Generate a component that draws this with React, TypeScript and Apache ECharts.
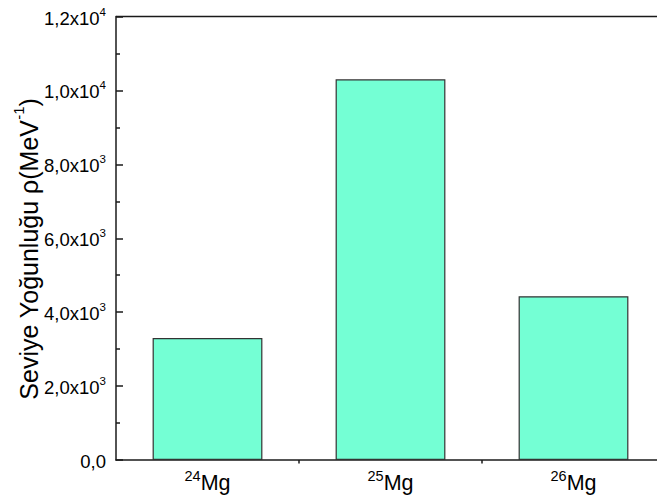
import React, { useEffect, useRef } from "react";
import * as echarts from "echarts";

// Isotopes (mass numbers) and their level densities
const massNumbers = ["24", "25", "26"];
const element = "Mg";
const levelDensity = [3300, 10300, 4430];

const yMin = 0;
const yMax = 12000;
const yInterval = 2000;

const FONT = "'Liberation Sans', Arial, sans-serif";
const INK = "#1a1a1a";

function formatSci(v: number): string {
  if (v === 0) return "{b|0,0}";
  const e = Math.floor(Math.log10(Math.abs(v)) + 1e-9);
  const m = (v / Math.pow(10, e)).toFixed(1).replace(".", ",");
  return `{b|${m}x10}{sup|${e}}`;
}

export default function App() {
  const ref = useRef<HTMLDivElement>(null);

  useEffect(() => {
    if (!ref.current) return;
    const chart = echarts.init(ref.current, undefined, { renderer: "svg" });

    // the plot frame runs past the right edge of the page
    const gridLeft = 116;
    const gridTop = 16.5;
    const gridWidth = 549;
    const gridHeight = 443.5;

    chart.setOption({
      animation: false,
      backgroundColor: "#ffffff",
      textStyle: { fontFamily: FONT, color: "#000" },
      grid: {
        left: gridLeft,
        top: gridTop,
        width: gridWidth,
        height: gridHeight,
        show: false,
        containLabel: false,
        outerBoundsMode: "none",
      },
      xAxis: {
        type: "category",
        data: massNumbers,
        boundaryGap: true,
        axisLine: { lineStyle: { color: INK, width: 1.5 } },
        axisTick: { alignWithLabel: true, length: 7, lineStyle: { color: INK, width: 1.5 } },
        axisLabel: {
          margin: 8,
          formatter: (v: string) => `{sup|${v}}{b|${element}}`,
          rich: {
            sup: { fontSize: 14.5, fontFamily: FONT, color: "#000", verticalAlign: "top", lineHeight: 24 },
            b: { fontSize: 21.5, fontFamily: FONT, color: "#000", verticalAlign: "bottom", lineHeight: 26 },
          },
        },
        splitLine: { show: false },
      },
      yAxis: {
        type: "value",
        min: yMin,
        max: yMax,
        interval: yInterval,
        axisLine: { show: true, lineStyle: { color: INK, width: 1.5 } },
        axisTick: { show: true, inside: true, length: 7, lineStyle: { color: INK, width: 1.5 } },
        minorTick: { show: true, splitNumber: 2, length: 4, lineStyle: { color: INK, width: 1.5 } },
        splitLine: { show: false },
        axisLabel: {
          margin: 10,
          formatter: (v: number) => formatSci(v),
          rich: {
            b: { fontSize: 18.5, fontFamily: FONT, color: "#000", lineHeight: 22, verticalAlign: "bottom" },
            sup: { fontSize: 11.5, fontFamily: FONT, color: "#000", lineHeight: 22, verticalAlign: "top" },
          },
        },
      },
      graphic: [
        {
          // top edge of the frame, running off the right side
          type: "line",
          shape: { x1: gridLeft, y1: gridTop, x2: 700, y2: gridTop },
          style: { stroke: INK, lineWidth: 1.5 },
          z: 10,
        },
        {
          // short ticks on the category boundaries below the axis
          type: "group",
          children: [1, 2].map((i) => ({
            type: "line",
            shape: {
              x1: gridLeft + (gridWidth / massNumbers.length) * i,
              y1: gridTop + gridHeight,
              x2: gridLeft + (gridWidth / massNumbers.length) * i,
              y2: gridTop + gridHeight + 3.5,
            },
            style: { stroke: INK, lineWidth: 1.5 },
          })),
        },
        {
          type: "text",
          x: 26,
          y: 249,
          rotation: Math.PI / 2,
          style: {
            text: "{b|Seviye Yoğunluğu ρ(MeV}{sup|-1}{b|)}",
            align: "center",
            verticalAlign: "middle",
            rich: {
              b: { fontSize: 25, fontFamily: FONT, fill: "#000", lineHeight: 30, verticalAlign: "bottom" },
              sup: { fontSize: 15, fontFamily: FONT, fill: "#000", lineHeight: 30, verticalAlign: "top" },
            },
          },
        },
      ],
      series: [
        {
          type: "bar",
          data: levelDensity,
          barWidth: "60%",
          itemStyle: { color: "#74ffd4", borderColor: "#333333", borderWidth: 1.2 },
        },
      ],
    });

    return () => chart.dispose();
  }, []);

  return (
    <div
      ref={ref}
      style={{ position: "fixed", left: 0, top: 0, width: 657, height: 499, background: "#fff" }}
    />
  );
}
